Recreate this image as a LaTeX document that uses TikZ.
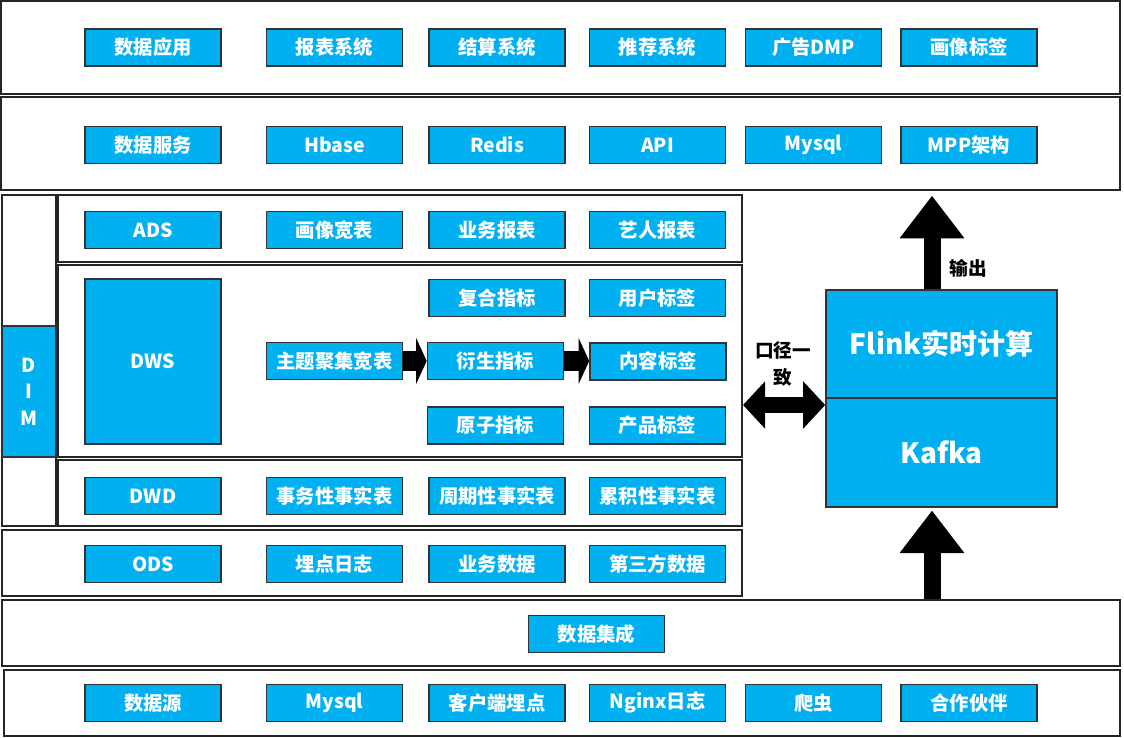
\documentclass[tikz,border=0pt]{standalone}
\usepackage{fontspec}
\setmainfont{Noto Sans CJK SC}
\usetikzlibrary{arrows.meta,fit,positioning}
\definecolor{cellblue}{HTML}{00B0F0}
\tikzset{
  cell/.style={draw=black!80, line width=1.2pt, fill=cellblue, text=white,
    font=\bfseries\fontsize{14.5}{16}\selectfont,
    minimum width=102pt, minimum height=27.75pt, inner sep=0pt},
  frame/.style={draw=black!85, line width=1.5pt, inner sep=0pt},
  bigarrow/.style={line width=12.75pt, -{Triangle[width=46.5pt,length=32pt]}},
  smallarrow/.style={line width=15pt, -{Triangle[width=34.5pt,length=8pt]}},
  bothways/.style={line width=12pt,
    {Triangle[width=34.5pt,length=16.5pt]}-{Triangle[width=34.5pt,length=16.5pt]}},
  note/.style={font=\bfseries\fontsize{14}{20}\selectfont, align=center, inner sep=0pt},
}

\begin{document}
\begin{tikzpicture}[x=0.75pt,y=-0.75pt]
			%%%%% START %%%%%
			\useasboundingbox (0,0) rectangle (1124,738);
			
			% layer frames
			\node[frame, fit={(1,1)(1120,94)}] (app) {};
			\node[frame, fit={(1,97)(1120,190)}] (serve) {};
			\node[frame, fit={(2,195)(56,526)}] (dimcol) {};
			\node[frame, fit={(58,195)(742,262)}] (ads) {};
			\node[frame, fit={(58,265)(742,457)}] (dws) {};
			\node[frame, fit={(58,460)(742,526)}] (dwd) {};
			\node[frame, fit={(2,530)(742,596)}] (ods) {};
			\node[frame, fit={(2,600)(1120,666)}] (integ) {};
			\node[frame, fit={(4,670)(1120,736)}] (source) {};
			
			% 数据应用
			\node[cell] (appT) at (153,47.5) {数据应用};
			\node[cell] (report) at (334.5,47.5) {报表系统};
			\node[cell] (settle) at (497,47.5) {结算系统};
			\node[cell] (recommend) at (657.5,47.5) {推荐系统};
			\node[cell] (dmp) at (813.5,47.5) {广告DMP};
			\node[cell] (portrait) at (969,47.5) {画像标签};
			
			% 数据服务
			\node[cell] (serveT) at (153,145) {数据服务};
			\node[cell] (hbase) at (334.5,145) {Hbase};
			\node[cell] (redis) at (497,145) {Redis};
			\node[cell] (api) at (657.5,145) {API};
			\node[cell] (mysqlOut) at (813.5,145) {Mysql};
			\node[cell] (mpp) at (969,145) {MPP架构};
			
			% DIM
			\node[cell, minimum width=40.5pt, minimum height=98.25pt, align=center] (dim) at (29,391.5) {D\\[4pt]I\\[4pt]M};
			
			% ADS
			\node[cell] (adsT) at (153,230) {ADS};
			\node[cell] (wide) at (334.5,230) {画像宽表};
			\node[cell] (bizReport) at (497,230) {业务报表};
			\node[cell] (artist) at (657.5,230) {艺人报表};
			
			% DWS
			\node[cell, minimum height=123.75pt] (dwsT) at (153,361.5) {DWS};
			\node[cell] (topic) at (334.5,361) {主题聚集宽表};
			\node[cell] (compound) at (497,298) {复合指标};
			\node[cell] (derive) at (495.5,361) {衍生指标};
			\node[cell] (atom) at (495.5,425.5) {原子指标};
			\node[cell] (userTag) at (657.5,298) {用户标签};
			\node[cell] (contentTag) at (658,361.5) {内容标签};
			\node[cell] (productTag) at (657.5,425.5) {产品标签};
			\draw[smallarrow] (topic.east) -- (derive.west);
			\draw[smallarrow] (derive.east) -- (contentTag.west |- derive.east);
			
			% DWD
			\node[cell] (dwdT) at (153,496) {DWD};
			\node[cell] (trans) at (334.5,496) {事务性事实表};
			\node[cell] (period) at (497,496) {周期性事实表};
			\node[cell] (accum) at (657.5,496) {累积性事实表};
			
			% ODS
			\node[cell] (odsT) at (153,564) {ODS};
			\node[cell] (track) at (334.5,564) {埋点日志};
			\node[cell] (bizData) at (497,564) {业务数据};
			\node[cell] (third) at (657.5,564) {第三方数据};
			
			% 数据集成
			\node[cell] (integT) at (596.5,634) {数据集成};
			
			% 数据源
			\node[cell] (sourceT) at (153,703) {数据源};
			\node[cell] (mysqlIn) at (334.5,703) {Mysql};
			\node[cell] (client) at (497,703) {客户端埋点};
			\node[cell] (nginx) at (657.5,703) {Nginx日志};
			\node[cell] (crawler) at (813.5,703) {爬虫};
			\node[cell] (partner) at (969,703) {合作伙伴};
			
			% realtime
			\node[cell, minimum width=173.25pt, minimum height=81pt, font=\bfseries\fontsize{21}{24}\selectfont] (flink) at (941.5,344) {Flink实时计算};
			\node[cell, minimum width=173.25pt, minimum height=81.75pt, font=\bfseries\fontsize{21}{24}\selectfont] (kafka) at (941.5,452.5) {Kafka};
			
			\coordinate (outx) at (932,0);
			\draw[bigarrow, shorten >=3.5pt] (flink.north -| outx) -- (serve.south -| outx);
			\draw[bigarrow, shorten >=2pt] (integ.north -| outx) -- (kafka.south -| outx);
			\node[note] (output) at (968,268) {输出};
			
			\coordinate (agree) at (783,405);
			\draw[bothways] (dws.east |- agree) -- (kafka.west |- agree);
			\node[note] (agreeLabel) at (783,364) {口径一\\致};
			
			%%%%% END %%%%%
		\end{tikzpicture}
\end{document}
